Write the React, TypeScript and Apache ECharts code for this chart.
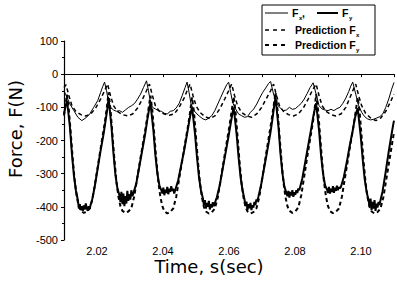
import React, { useEffect, useRef } from 'react';
import * as echarts from 'echarts';

// Time (s) vs force (N)
const fxMeasured: [number, number][] = [
  [2.0100, -50], [2.0109, -70], [2.0118, -90], [2.0130, -110], [2.0142, -130], [2.0154, -140],
  [2.0166, -132], [2.0178, -120], [2.0190, -100], [2.0202, -80], [2.0211, -55], [2.0217, -38],
  [2.0223, -24], [2.0229, -50], [2.0235, -85], [2.0241, -100], [2.0250, -108], [2.0259, -112],
  [2.0268, -110], [2.0277, -115], [2.0286, -108], [2.0296, -100], [2.0305, -95], [2.0314, -88],
  [2.0323, -75], [2.0332, -60], [2.0341, -40], [2.0350, -20], [2.0356, -50], [2.0362, -85],
  [2.0368, -100], [2.0377, -105], [2.0386, -110], [2.0395, -112], [2.0404, -118], [2.0413, -120],
  [2.0422, -112], [2.0431, -110], [2.0440, -102], [2.0449, -88], [2.0458, -65], [2.0467, -40],
  [2.0473, -24], [2.0479, -55], [2.0485, -90], [2.0494, -110], [2.0503, -120], [2.0512, -128],
  [2.0521, -135], [2.0530, -138], [2.0539, -132], [2.0548, -125], [2.0557, -110], [2.0566, -90],
  [2.0575, -70], [2.0584, -50], [2.0593, -32], [2.0599, -24], [2.0605, -55], [2.0611, -85],
  [2.0620, -105], [2.0629, -120], [2.0638, -125], [2.0647, -130], [2.0656, -128], [2.0665, -115],
  [2.0675, -105], [2.0684, -90], [2.0693, -72], [2.0702, -55], [2.0711, -42], [2.0720, -28],
  [2.0726, -22], [2.0735, -60], [2.0744, -88], [2.0753, -100], [2.0765, -110], [2.0774, -108],
  [2.0783, -100], [2.0792, -106], [2.0801, -104], [2.0810, -96], [2.0819, -88], [2.0828, -75],
  [2.0837, -58], [2.0846, -40], [2.0855, -26], [2.0864, -60], [2.0873, -95], [2.0882, -105],
  [2.0891, -108], [2.0900, -110], [2.0909, -106], [2.0918, -110], [2.0927, -104], [2.0936, -100],
  [2.0945, -88], [2.0954, -72], [2.0963, -52], [2.0969, -36], [2.0975, -24], [2.0984, -60],
  [2.0993, -95], [2.1002, -115], [2.1011, -128], [2.1020, -135], [2.1029, -138], [2.1038, -136],
  [2.1048, -132], [2.1057, -128], [2.1066, -120], [2.1075, -100], [2.1084, -75], [2.1093, -45],
  [2.1100, -25],
];

const fyMeasured: [number, number][] = [
  [2.0100, -120], [2.0105, -95], [2.0109, -80], [2.0112, -105], [2.0118, -160], [2.0124, -240],
  [2.0130, -305], [2.0136, -350], [2.0142, -380], [2.0145, -405], [2.0148, -392], [2.0151, -410],
  [2.0154, -398], [2.0157, -412], [2.0160, -396], [2.0163, -408], [2.0166, -390], [2.0169, -404],
  [2.0172, -412], [2.0175, -398], [2.0178, -406], [2.0181, -392], [2.0184, -385], [2.0193, -340],
  [2.0202, -285], [2.0211, -230], [2.0220, -180], [2.0226, -140], [2.0232, -100], [2.0235, -73],
  [2.0238, -100], [2.0244, -160], [2.0250, -240], [2.0256, -305], [2.0262, -345], [2.0268, -365],
  [2.0271, -385], [2.0274, -355], [2.0277, -392], [2.0280, -360], [2.0283, -398], [2.0286, -368],
  [2.0289, -390], [2.0292, -352], [2.0295, -382], [2.0298, -362], [2.0301, -378], [2.0304, -350],
  [2.0307, -368], [2.0310, -360], [2.0319, -330], [2.0328, -280], [2.0337, -230], [2.0346, -180],
  [2.0352, -140], [2.0358, -105], [2.0362, -88],
  [2.0365, -115], [2.0371, -170], [2.0377, -245], [2.0383, -300], [2.0389, -335], [2.0395, -350],
  [2.0398, -360], [2.0401, -342], [2.0404, -365], [2.0407, -348], [2.0410, -358], [2.0413, -340],
  [2.0416, -362], [2.0419, -345], [2.0422, -355], [2.0425, -338], [2.0428, -352], [2.0431, -345],
  [2.0434, -360], [2.0437, -350], [2.0446, -320], [2.0455, -275], [2.0464, -230], [2.0473, -180],
  [2.0479, -145], [2.0485, -112], [2.0488, -100],
  [2.0491, -125], [2.0497, -180], [2.0503, -250], [2.0509, -310], [2.0515, -350], [2.0521, -375],
  [2.0524, -395], [2.0527, -380], [2.0530, -405], [2.0533, -388], [2.0536, -400], [2.0539, -382],
  [2.0542, -408], [2.0545, -392], [2.0548, -402], [2.0551, -386], [2.0554, -398], [2.0557, -390],
  [2.0560, -380], [2.0563, -372], [2.0572, -335], [2.0581, -285], [2.0590, -235], [2.0599, -185],
  [2.0605, -150], [2.0611, -115], [2.0614, -100],
  [2.0617, -125], [2.0623, -180], [2.0629, -250], [2.0635, -310], [2.0641, -350], [2.0647, -378],
  [2.0650, -398], [2.0653, -384], [2.0656, -410], [2.0659, -392], [2.0662, -404], [2.0665, -388],
  [2.0668, -410], [2.0671, -395], [2.0674, -402], [2.0677, -385], [2.0680, -395], [2.0683, -378],
  [2.0686, -382], [2.0689, -370], [2.0698, -330], [2.0707, -280], [2.0716, -230], [2.0725, -180],
  [2.0731, -140], [2.0737, -95], [2.0741, -70],
  [2.0744, -100], [2.0750, -160], [2.0756, -240], [2.0762, -300], [2.0768, -340], [2.0774, -358],
  [2.0777, -368], [2.0780, -352], [2.0783, -372], [2.0786, -355], [2.0789, -366], [2.0792, -350],
  [2.0795, -370], [2.0798, -356], [2.0801, -364], [2.0804, -350], [2.0807, -358], [2.0810, -345],
  [2.0813, -350], [2.0822, -315], [2.0831, -265], [2.0840, -215], [2.0849, -165], [2.0855, -130],
  [2.0861, -100], [2.0864, -88],
  [2.0867, -115], [2.0873, -170], [2.0879, -245], [2.0885, -300], [2.0891, -335], [2.0897, -348],
  [2.0900, -358], [2.0903, -340], [2.0906, -360], [2.0909, -345], [2.0912, -355], [2.0915, -338],
  [2.0918, -358], [2.0921, -342], [2.0924, -352], [2.0927, -336], [2.0930, -350], [2.0933, -340],
  [2.0936, -345], [2.0939, -340], [2.0948, -310], [2.0957, -265], [2.0966, -215], [2.0975, -170],
  [2.0981, -135], [2.0987, -112], [2.0990, -103],
  [2.0993, -130], [2.0999, -185], [2.1005, -255], [2.1011, -315], [2.1017, -355], [2.1023, -380],
  [2.1026, -400], [2.1029, -375], [2.1032, -410], [2.1035, -385], [2.1038, -405], [2.1041, -380],
  [2.1044, -412], [2.1047, -390], [2.1050, -402], [2.1053, -385], [2.1056, -395], [2.1059, -380],
  [2.1065, -355], [2.1074, -300], [2.1083, -240], [2.1092, -185], [2.1098, -150], [2.1100, -140],
];

const fxPredicted: [number, number][] = [
  [2.0100, -40], [2.0106, -32], [2.0115, -65], [2.0124, -95], [2.0136, -112], [2.0151, -122],
  [2.0166, -126], [2.0181, -120], [2.0196, -102], [2.0211, -75], [2.0223, -50], [2.0232, -30],
  [2.0241, -65], [2.0250, -95], [2.0262, -112], [2.0277, -122], [2.0293, -126], [2.0308, -120],
  [2.0323, -102], [2.0338, -75], [2.0350, -50], [2.0359, -30], [2.0368, -65], [2.0377, -95],
  [2.0389, -112], [2.0404, -120], [2.0419, -124], [2.0434, -120], [2.0449, -100], [2.0464, -72],
  [2.0473, -50], [2.0482, -30], [2.0491, -65], [2.0500, -95], [2.0512, -115], [2.0527, -128],
  [2.0542, -134], [2.0557, -126], [2.0572, -105], [2.0587, -75], [2.0599, -50], [2.0608, -30],
  [2.0617, -65], [2.0626, -95], [2.0638, -115], [2.0653, -126], [2.0669, -130], [2.0684, -120],
  [2.0699, -100], [2.0714, -72], [2.0726, -50], [2.0735, -30], [2.0744, -65], [2.0753, -95],
  [2.0765, -112], [2.0780, -122], [2.0795, -126], [2.0810, -120], [2.0825, -102], [2.0840, -75],
  [2.0852, -50], [2.0864, -30], [2.0873, -65], [2.0882, -95], [2.0894, -112], [2.0909, -122],
  [2.0924, -126], [2.0939, -120], [2.0954, -100], [2.0966, -72], [2.0975, -50], [2.0984, -30],
  [2.0993, -65], [2.1002, -95], [2.1014, -118], [2.1029, -132], [2.1045, -140], [2.1060, -132],
  [2.1075, -112], [2.1090, -82], [2.1100, -60],
];

const fyPredicted: [number, number][] = [
  [2.0100, -125], [2.0104, -95],
  [2.0109, -62], [2.0115, -110], [2.0121, -185], [2.0127, -262], [2.0133, -326], [2.0139, -372],
  [2.0145, -399], [2.0151, -412], [2.0160, -418], [2.0169, -415], [2.0178, -405], [2.0187, -372],
  [2.0196, -318], [2.0205, -262], [2.0214, -205], [2.0223, -150], [2.0229, -108],
  [2.0235, -55], [2.0241, -108], [2.0247, -185], [2.0253, -260], [2.0259, -325], [2.0265, -370],
  [2.0271, -398], [2.0277, -412], [2.0286, -418], [2.0295, -414], [2.0304, -404], [2.0313, -368],
  [2.0322, -312], [2.0331, -258], [2.0340, -205], [2.0349, -152], [2.0355, -112],
  [2.0362, -65], [2.0368, -112], [2.0374, -188], [2.0380, -262], [2.0386, -326], [2.0392, -370],
  [2.0398, -398], [2.0404, -413], [2.0413, -420], [2.0422, -415], [2.0431, -405], [2.0440, -370],
  [2.0449, -315], [2.0458, -262], [2.0467, -208], [2.0476, -155], [2.0482, -115],
  [2.0488, -70], [2.0494, -115], [2.0500, -190], [2.0506, -265], [2.0512, -328], [2.0518, -372],
  [2.0524, -400], [2.0530, -414], [2.0539, -420], [2.0548, -416], [2.0557, -406], [2.0566, -372],
  [2.0575, -316], [2.0584, -262], [2.0593, -206], [2.0602, -152], [2.0608, -112],
  [2.0614, -68], [2.0620, -115], [2.0626, -190], [2.0632, -265], [2.0638, -328], [2.0644, -372],
  [2.0650, -400], [2.0656, -414], [2.0665, -420], [2.0674, -416], [2.0683, -405], [2.0692, -370],
  [2.0701, -312], [2.0710, -256], [2.0719, -200], [2.0728, -145], [2.0734, -105],
  [2.0741, -55], [2.0747, -108], [2.0753, -185], [2.0759, -260], [2.0765, -325], [2.0771, -370],
  [2.0777, -398], [2.0783, -412], [2.0792, -418], [2.0801, -414], [2.0810, -402], [2.0819, -365],
  [2.0828, -308], [2.0837, -250], [2.0846, -195], [2.0855, -140], [2.0860, -100],
  [2.0864, -60], [2.0870, -110], [2.0876, -186], [2.0882, -262], [2.0888, -326], [2.0894, -370],
  [2.0900, -398], [2.0906, -413], [2.0915, -419], [2.0924, -415], [2.0933, -405], [2.0942, -370],
  [2.0951, -315], [2.0960, -260], [2.0969, -205], [2.0978, -152], [2.0984, -112],
  [2.0990, -70], [2.0996, -115], [2.1002, -190], [2.1008, -265], [2.1014, -328], [2.1020, -372],
  [2.1026, -400], [2.1032, -414], [2.1041, -420], [2.1050, -416], [2.1059, -405], [2.1068, -370],
  [2.1077, -315], [2.1086, -260], [2.1095, -205], [2.1100, -175],
];

const xLabelValues = [2.02, 2.04, 2.06, 2.08, 2.1];
const yLabelValues = [100, 0, -100, -200, -300, -400, -500];
const xTitle = 'Time, s(sec)';
const yTitle = 'Force, F(N)';
const legendNames = ['F', 'F', 'Prediction F', 'Prediction F'];
const legendSubs = ['x', 'y', 'x', 'y'];

const SANS = '"Liberation Sans", Arial, sans-serif';
const TITLE_FONT = '18px "DejaVu Sans", sans-serif';
const LEG_FONT = 'bold 10.5px "Liberation Sans", Arial, sans-serif';
const SUB_FONT = 'bold 6px "Liberation Sans", Arial, sans-serif';

function txt(x: number, y: number, text: string, font: string, extra: any = {}) {
  return {
    type: 'text', x, y, z: 110, silent: true, ...extra,
    style: { text, font, fill: '#000', align: 'left', textAlign: 'left', verticalAlign: 'middle', textVerticalAlign: 'middle', ...(extra.style || {}) },
  };
}

export default function App() {
  const ref = useRef<HTMLDivElement>(null);
  useEffect(() => {
    document.body.style.margin = '0';
    const chart = echarts.init(ref.current!, null, { renderer: 'svg' });
    const lineSeries = (name: string, data: [number, number][], width: number, dashed: boolean, z: number) => ({
      name, type: 'line', data, showSymbol: false, symbol: 'none', z, silent: true,
      lineStyle: { color: '#000', width, type: dashed ? [4, 3] : 'solid', cap: 'butt' },
    });
    chart.setOption({
      animation: false,
      backgroundColor: '#fff',
      grid: { left: 64, right: 0.5, top: 41, bottom: 41 },
      xAxis: {
        type: 'value', min: 2.01, max: 2.11, interval: 0.01,
        axisLine: { show: true, lineStyle: { color: '#000', width: 1.2 } },
        axisTick: { show: true, length: 3, inside: false, lineStyle: { color: '#000' } },
        axisLabel: {
          color: '#000', fontSize: 11, fontFamily: SANS, margin: 5,
          formatter: (v: number) => {
            const k = Math.round(v * 100);
            return xLabelValues.some((t) => Math.round(t * 100) === k) ? (k / 100).toFixed(2) : '';
          },
        },
        splitLine: { show: false },
      },
      yAxis: {
        type: 'value', min: -500, max: 100, interval: 100,
        axisLine: { show: true, lineStyle: { color: '#000', width: 1.2 } },
        axisTick: { show: true, length: 3, inside: false, lineStyle: { color: '#000' } },
        minorTick: { show: true, splitNumber: 2, length: 2, lineStyle: { color: '#000' } },
        axisLabel: {
          color: '#000', fontSize: 11, fontFamily: SANS, margin: 6,
          formatter: (v: number) => (yLabelValues.includes(Math.round(v)) ? String(Math.round(v)) : ''),
        },
        splitLine: { show: false },
        minorSplitLine: { show: false },
      },
      series: [
        lineSeries('Prediction Fx', fxPredicted, 1.5, true, 2),
        lineSeries('Prediction Fy', fyPredicted, 2, true, 3),
        lineSeries('Fx', fxMeasured, 1, false, 4),
        lineSeries('Fy', fyMeasured, 2, false, 5),
      ],
      graphic: [
        txt(15, 129, yTitle, TITLE_FONT, { rotation: Math.PI / 2, style: { align: 'center', textAlign: 'center' } }),
        txt(209, 266, xTitle, TITLE_FONT, { style: { align: 'center', textAlign: 'center' } }),
        { type: 'rect', z: 100, silent: true, shape: { x: 262, y: 5, width: 113, height: 50 }, style: { fill: '#fff', stroke: '#000', lineWidth: 1 } },
        { type: 'line', z: 110, silent: true, shape: { x1: 265, y1: 13, x2: 288, y2: 13 }, style: { stroke: '#000', lineWidth: 1 } },
        txt(292, 13, legendNames[0], LEG_FONT),
        txt(299, 17.5, legendSubs[0], SUB_FONT),
        txt(302, 13, ',', LEG_FONT),
        { type: 'line', z: 110, silent: true, shape: { x1: 317, y1: 13, x2: 338, y2: 13 }, style: { stroke: '#000', lineWidth: 2 } },
        txt(342, 13, legendNames[1], LEG_FONT),
        txt(349, 17.5, legendSubs[1], SUB_FONT),
        { type: 'line', z: 110, silent: true, shape: { x1: 265, y1: 30, x2: 287, y2: 30 }, style: { stroke: '#000', lineWidth: 1.5, lineDash: [4, 4] } },
        txt(295, 30, legendNames[2], LEG_FONT),
        txt(356, 34.5, legendSubs[2], SUB_FONT),
        { type: 'line', z: 110, silent: true, shape: { x1: 265, y1: 45, x2: 287, y2: 45 }, style: { stroke: '#000', lineWidth: 2, lineDash: [4, 4] } },
        txt(295, 45, legendNames[3], LEG_FONT),
        txt(356, 49.5, legendSubs[3], SUB_FONT),
      ],
    });
    return () => chart.dispose();
  }, []);
  return <div ref={ref} style={{ position: 'fixed', left: 0, top: 0, width: 397, height: 281, background: '#fff' }} />;
}
